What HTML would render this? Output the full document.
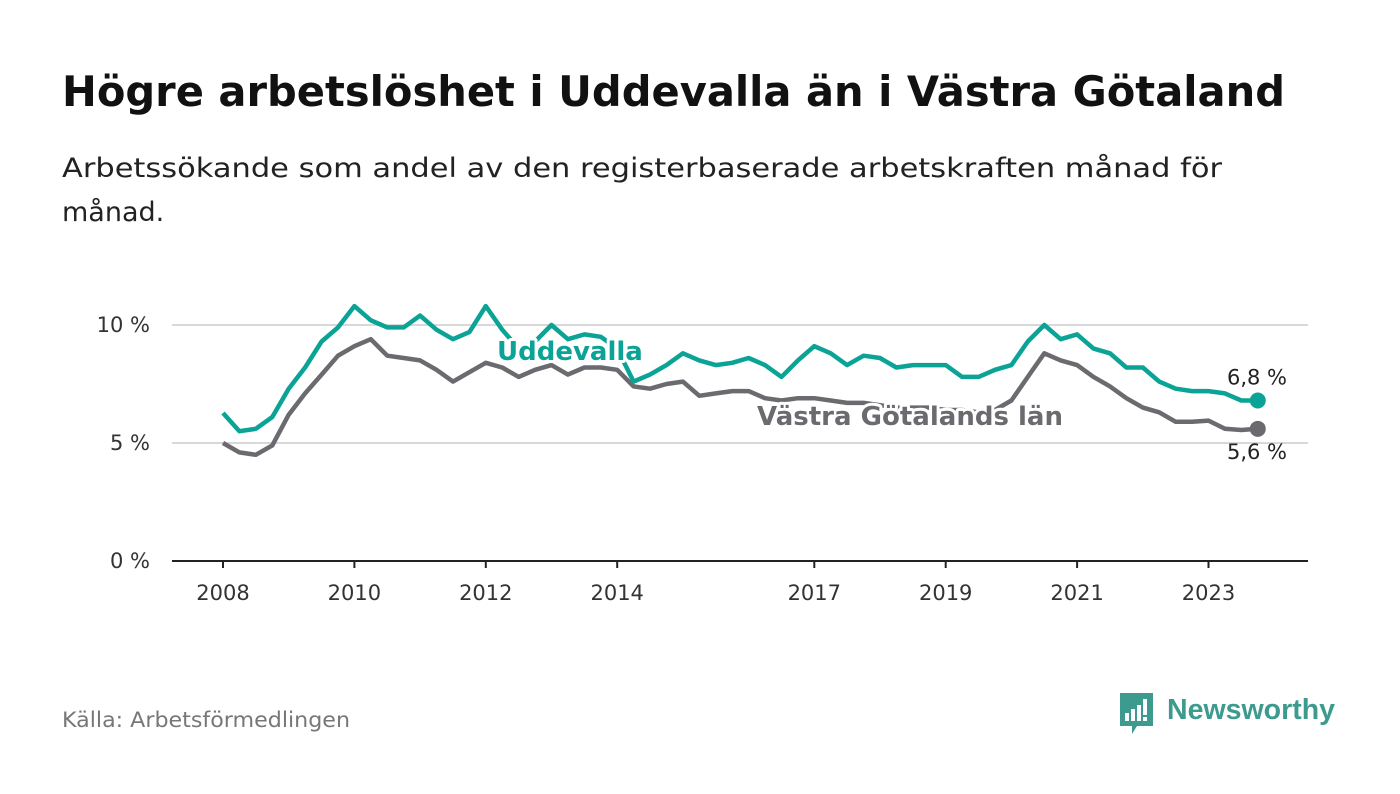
<!DOCTYPE html>
<html><head><meta charset="utf-8"><style>
body{margin:0;background:#fff;width:1400px;height:794px;overflow:hidden}
svg{display:block;font-family:"DejaVu Sans","Liberation Sans",sans-serif}
</style></head><body>
<svg id="chart" width="1400" height="794" viewBox="0 0 1400 794">
<text x="62" y="106" font-size="42" font-weight="bold" fill="#111" textLength="1223" lengthAdjust="spacingAndGlyphs">Högre arbetslöshet i Uddevalla än i Västra Götaland</text>
<text x="62" y="177" font-size="27" fill="#222" textLength="1160" lengthAdjust="spacingAndGlyphs">Arbetssökande som andel av den registerbaserade arbetskraften månad för</text>
<text x="62" y="221" font-size="27" fill="#222">månad.</text>
<g id="grid"></g><g id="xaxis"></g><g id="lines"></g><g id="labels"></g>
<text x="62" y="727" font-size="21" fill="#777" textLength="288" lengthAdjust="spacingAndGlyphs">Källa: Arbetsförmedlingen</text>
<g>
<path d="M1120 693 h33 v33 h-16 l-5 8 v-8 h-12 z" fill="#3d9a8e"/>
<rect x="1125" y="713" width="4" height="8" fill="#fff"/><rect x="1131" y="709" width="4" height="12" fill="#fff"/><rect x="1137" y="705" width="4" height="16" fill="#fff"/><rect x="1143" y="699" width="4" height="16" fill="#fff"/><rect x="1143" y="717" width="4" height="4" fill="#fff"/>
<text x="1167" y="719" font-size="29" font-family="Liberation Sans, sans-serif" font-weight="bold" fill="#3d9a8e" textLength="168" lengthAdjust="spacingAndGlyphs">Newsworthy</text>
</g>
</svg>
<script>
const yTicks=[0,5,10];
const xTickYears=[2008,2010,2012,2014,2017,2019,2021,2023];
const startYear=2008, stepMonths=3;
const uddevalla=[6.27,5.5,5.6,6.1,7.3,8.2,9.3,9.9,10.8,10.2,9.9,9.9,10.4,9.8,9.4,9.7,10.8,9.8,9.0,9.3,10.0,9.4,9.6,9.5,9.0,7.6,7.9,8.3,8.8,8.5,8.3,8.4,8.6,8.3,7.8,8.5,9.1,8.8,8.3,8.7,8.6,8.2,8.3,8.3,8.3,7.8,7.8,8.1,8.3,9.3,10.0,9.4,9.6,9.0,8.8,8.2,8.2,7.6,7.3,7.2,7.2,7.1,6.8,6.8];
const vastra=[5.0,4.6,4.5,4.9,6.2,7.1,7.9,8.7,9.1,9.4,8.7,8.6,8.5,8.1,7.6,8.0,8.4,8.2,7.8,8.1,8.3,7.9,8.2,8.2,8.1,7.4,7.3,7.5,7.6,7.0,7.1,7.2,7.2,6.9,6.8,6.9,6.9,6.8,6.7,6.7,6.6,6.5,6.5,6.5,6.4,6.4,6.3,6.4,6.8,7.8,8.8,8.5,8.3,7.8,7.4,6.9,6.5,6.3,5.9,5.9,5.95,5.6,5.55,5.6];
const endLabels=["6,8 %","5,6 %"];
const NS="http://www.w3.org/2000/svg";
const X=t=>223+(t-startYear)*65.7;
const Y=v=>561-v*23.6;
const xi=i=>X(startYear+i*stepMonths/12);
function mk(tag,attrs,parent,txt){const e=document.createElementNS(NS,tag);for(const k in attrs)e.setAttribute(k,attrs[k]);if(txt!==undefined)e.textContent=txt;parent.appendChild(e);return e;}
const grid=document.getElementById('grid');
yTicks.forEach(v=>{
  const l=mk('line',{x1:172,x2:1308,y1:Y(v),y2:Y(v),stroke:v===0?'#222':'#d8d8d8','stroke-width':2},grid);
  
  
  const t=mk('text',{x:150,y:Y(v)+7,'text-anchor':'end','font-size':21,fill:'#333'},grid,v+' %');
  
  
});
const xa=document.getElementById('xaxis');
xTickYears.forEach(yr=>{
  const tk=mk('line',{x1:X(yr),x2:X(yr),y1:561,y2:568,stroke:'#222','stroke-width':2},xa);
  
  
  const t=mk('text',{x:X(yr),y:600,'text-anchor':'middle','font-size':21,fill:'#333'},xa,String(yr));
  
  
});
const lg=document.getElementById('lines');
function series(vals,color,name){
  const d=vals.map((v,i)=>(i?'L':'M')+xi(i).toFixed(1)+' '+Y(v).toFixed(1)).join(' ');
  const p=mk('path',{d:d,fill:'none',stroke:color,'stroke-width':4.5,'stroke-linejoin':'round'},lg);
  
  
  const n=vals.length-1;
  const c=mk('circle',{cx:xi(n),cy:Y(vals[n]),r:8,fill:color},lg);
  
  
}
series(vastra,'#6b6a6f','vastra-gotaland');
series(uddevalla,'#0aa396','uddevalla');
const lb=document.getElementById('labels');
const l1=mk('text',{x:497,y:360,'font-size':26,'font-weight':'bold',fill:'#0aa396',stroke:'#fff','stroke-width':6,'paint-order':'stroke','stroke-linejoin':'round'},lb,'Uddevalla');


const l2=mk('text',{x:757,y:425,'font-size':26,'font-weight':'bold',fill:'#6b6a6f',stroke:'#fff','stroke-width':6,'paint-order':'stroke','stroke-linejoin':'round',textLength:306,lengthAdjust:'spacingAndGlyphs'},lb,'Västra Götalands län');


const n=uddevalla.length-1;
const e1=mk('text',{x:1257,y:Y(uddevalla[n])-16,'text-anchor':'middle','font-size':21,fill:'#222'},lb,endLabels[0]);


const e2=mk('text',{x:1257,y:Y(vastra[n])+30,'text-anchor':'middle','font-size':21,fill:'#222'},lb,endLabels[1]);


</script>
</body></html>
